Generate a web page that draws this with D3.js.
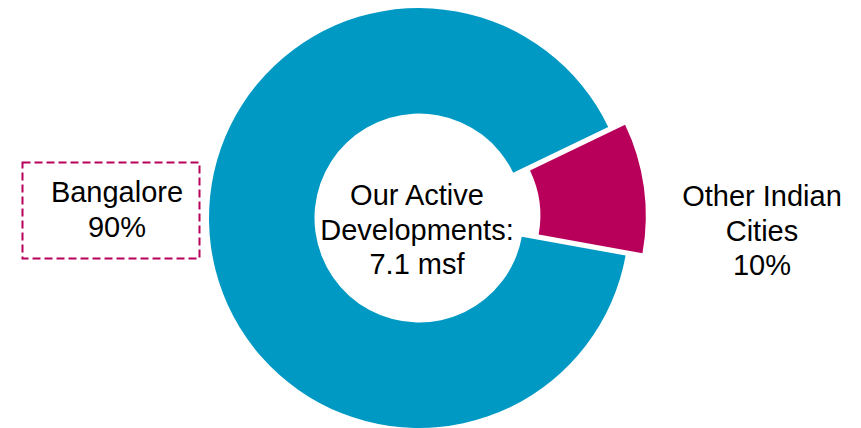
<!DOCTYPE html>
<html lang="en">
<head>
    <meta charset="UTF-8">
    <title>Active Developments</title>
    <script src="https://d3js.org/d3.v7.min.js"></script>
    <style>
        body { margin: 0; background: #fff; }
        text { font-family: "Liberation Sans", Arial, sans-serif; fill: #000; }
    </style>
</head>
<body>
    <svg width="861" height="428"></svg>
    <script>
        // data
        var categories = ["Bangalore", "Other Indian Cities"];
        var shares = [90, 10];
        var colors = ["#0099c4", "#b8005b"];
        var centerLines = ["Our Active", "Developments:", "7.1 msf"];

        var svg = d3.select("svg"),
            cx = 419, cy = 218,
            outerR = 210, innerR = 104.5,
            fontSize = 29, lineH = 34.5;

        var start = 100.3 * Math.PI / 180;
        var pie = d3.pie().sort(null).value(function(d) { return d; })
            .startAngle(start).endAngle(start + 2 * Math.PI);
        var arc = d3.arc().innerRadius(innerR).outerRadius(outerR);

        var g = svg.append("g")
            .attr("transform", "translate(" + cx + "," + cy + ")");

        var slices = pie(shares);

        g.selectAll("path")
            .data(slices)
            .enter().append("path")
            .attr("d", arc)
            .attr("fill", function(d, i) { return colors[i]; })
            .attr("transform", function(d, i) {
                if (i !== 1) return null;
                // pull the small slice out
                var mid = (d.startAngle + d.endAngle) / 2, off = 17;
                return "translate(" + (Math.sin(mid) * off) + "," + (-Math.cos(mid) * off) + ")";
            });

        function lines(x, y, arr) {
            var t = svg.append("text")
                .attr("text-anchor", "middle")
                .style("font-size", fontSize + "px");
            arr.forEach(function(s, i) {
                t.append("tspan").attr("x", x).attr("y", y + i * lineH).text(s);
            });
        }

        // center label
        lines(417, 205, centerLines);

        // Bangalore label with dashed box
        svg.append("rect")
            .attr("x", 22.5).attr("y", 162.5)
            .attr("width", 177).attr("height", 96)
            .attr("fill", "none")
            .attr("stroke", colors[1])
            .attr("stroke-width", 2)
            .attr("stroke-dasharray", "8,4");
        lines(117, 202, [categories[0], shares[0] + "%"]);

        // other cities label
        lines(762, 206, ["Other Indian", "Cities", shares[1] + "%"]);
    </script>
</body>
</html>
